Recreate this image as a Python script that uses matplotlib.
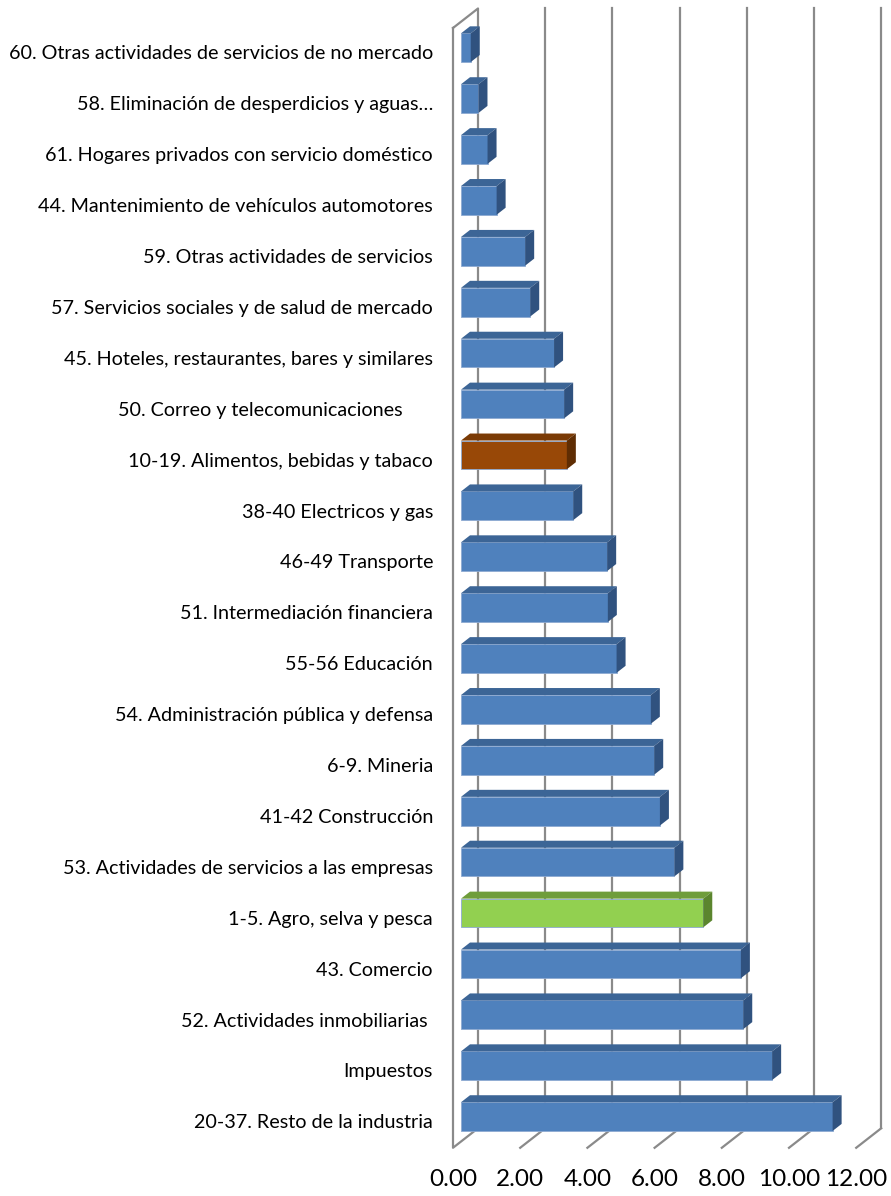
import matplotlib
matplotlib.use("Agg")
import matplotlib.pyplot as plt
from matplotlib.patches import Polygon

# categories top to bottom
labels = [
    "60. Otras actividades de servicios de no mercado",
    "58. Eliminación de desperdicios y aguas…",
    "61. Hogares privados con servicio doméstico",
    "44. Mantenimiento de vehículos automotores",
    "59. Otras actividades de servicios",
    "57. Servicios sociales y de salud de mercado",
    "45. Hoteles, restaurantes, bares y similares",
    "50. Correo y telecomunicaciones      ",
    "10-19. Alimentos, bebidas y tabaco",
    "38-40 Electricos y gas",
    "46-49 Transporte",
    "51. Intermediación financiera",
    "55-56 Educación",
    "54. Administración pública y defensa",
    "6-9. Mineria",
    "41-42 Construcción",
    "53. Actividades de servicios a las empresas",
    "1-5. Agro, selva y pesca",
    "43. Comercio",
    "52. Actividades inmobiliarias ",
    "Impuestos",
    "20-37. Resto de la industria",
]
values = [0.29, 0.52, 0.79, 1.06, 1.91, 2.06, 2.77, 3.07, 3.15, 3.34, 4.35,
          4.37, 4.63, 5.65, 5.75, 5.92, 6.35, 7.21, 8.33, 8.40, 9.26, 11.06]
ticks = [0, 2, 4, 6, 8, 10, 12]

# face colours (front, top, side)
blue = ("#4F81BD", "#3C6596", "#30527F")
orange = ("#984807", "#7A3A05", "#5F2D03")
green = ("#92D050", "#6F9D3B", "#5B852E")
special = {"10-19. Alimentos, bebidas y tabaco": orange,
           "1-5. Agro, selva y pesca": green}

plt.rcParams['font.family'] = ['Lato', 'DejaVu Sans']

fig = plt.figure(figsize=(8.91, 11.96), dpi=100)
ax = fig.add_axes([0, 0, 1, 1])
ax.set_xlim(-461 / 33.6, (891 - 461) / 33.6)
ax.set_ylim((1196 - 47.7) / 50.9, -47.7 / 50.9)
ax.axis("off")

# oblique depth vector (full depth) and bar position in depth
dxu, dyu = 25 / 33.6, 19.5 / 50.9
f0 = 0.32
half = 0.282
ytop, ybot = -0.51, 21.49


def P(x, y, f):
    return (x + (f - f0) * dxu, y - (f - f0) * dyu)


grid_c = "#8A8A8A"
lw = 1.6
# back wall gridlines
for t in ticks[1:]:
    ax.plot(*zip(P(t, ytop, 1), P(t, ybot, 1)), color=grid_c, lw=lw, zorder=1)
# floor depth lines
for t in ticks[1:]:
    ax.plot(*zip(P(t, ybot, 0), P(t, ybot, 1)), color=grid_c, lw=lw, zorder=1)
# left wall
wall = [P(0, ytop, 0), P(0, ytop, 1), P(0, ybot, 1), P(0, ybot, 0), P(0, ytop, 0)]
ax.plot(*zip(*wall), color=grid_c, lw=lw, zorder=1)

# bars
idx = list(range(len(labels)))
cols = [special.get(l, blue) for l in labels]
ax.barh(idx, values, height=2 * half, left=0, color=[c[0] for c in cols],
        edgecolor="#8EAAD2", linewidth=0.6, zorder=3)
for i, (v, c) in enumerate(zip(values, cols)):
    top = [P(0, i - half, f0), P(v, i - half, f0), P(v, i - half, 1 - f0), P(0, i - half, 1 - f0)]
    side = [P(v, i - half, f0), P(v, i + half, f0), P(v, i + half, 1 - f0), P(v, i - half, 1 - f0)]
    ax.add_patch(Polygon(top, closed=True, facecolor=c[1], edgecolor="none", zorder=3))
    ax.add_patch(Polygon(side, closed=True, facecolor=c[2], edgecolor="none", zorder=3))

# category labels at the front plane
for i, l in enumerate(labels):
    x, y = P(0, i, 0)
    ax.text(x - 20 / 33.6, y, l, ha="right", va="center", fontsize=14.2, color="black")

# value axis labels
for t in ticks:
    x, y = P(t, ybot, 0)
    ax.text(x, y + 32 / 50.9, f"{t:.2f}", ha="center", va="center", fontsize=17.5, color="black")

fig.savefig("out.png", dpi=100)
